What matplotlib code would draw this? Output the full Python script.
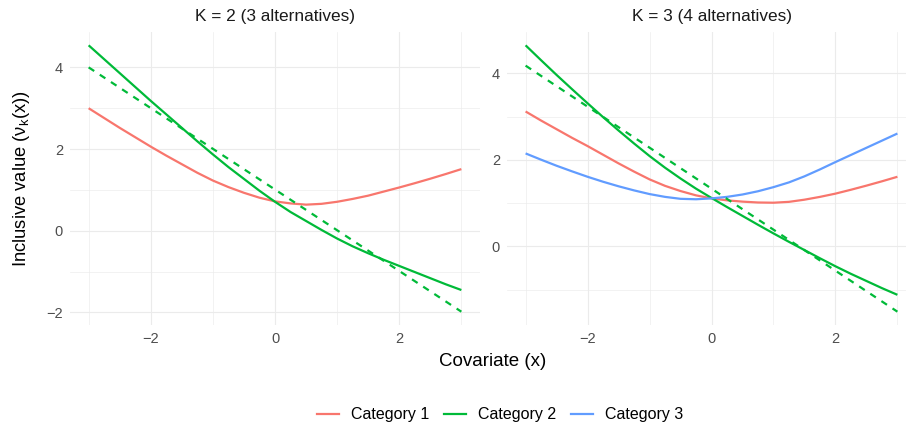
import matplotlib
matplotlib.use("Agg")
import matplotlib.pyplot as plt
from matplotlib.lines import Line2D
from matplotlib.ticker import MultipleLocator

plt.rcParams['font.family'] = ['Liberation Sans', 'DejaVu Sans']
plt.rcParams['mathtext.fontset'] = 'custom'
plt.rcParams['mathtext.rm'] = 'Liberation Sans'
plt.rcParams['mathtext.it'] = 'Liberation Sans:italic'

# ---- data ----
x = [-3, -2.75, -2.5, -2.25, -2, -1.75, -1.5, -1.25, -1, -0.75, -0.5, -0.25,
     0, 0.25, 0.5, 0.75, 1, 1.25, 1.5, 1.75, 2, 2.25, 2.5, 2.75, 3]

# Panel K = 2
k2_cat1 = [3.00, 2.76, 2.52, 2.29, 2.06, 1.84, 1.63, 1.42, 1.23, 1.07, 0.93, 0.81,
           0.72, 0.67, 0.64, 0.66, 0.71, 0.78, 0.86, 0.96, 1.06, 1.165, 1.275, 1.39, 1.51]
k2_cat2 = [4.54, 4.20, 3.86, 3.52, 3.18, 2.85, 2.52, 2.19, 1.87, 1.56, 1.27, 0.98,
           0.71, 0.46, 0.24, 0.02, -0.19, -0.38, -0.55, -0.71, -0.86, -1.01, -1.16, -1.31, -1.45]
k2_dash_x = [-3, 3]
k2_dash_y = [4.00, -1.98]

# Panel K = 3
k3_cat1 = [3.12, 2.91, 2.71, 2.51, 2.32, 2.12, 1.92, 1.73, 1.55, 1.40, 1.28, 1.18,
           1.11, 1.065, 1.035, 1.015, 1.01, 1.03, 1.08, 1.145, 1.22, 1.31, 1.405, 1.505, 1.61]
k3_cat2 = [4.65, 4.305, 3.965, 3.635, 3.31, 2.99, 2.68, 2.38, 2.09, 1.82, 1.57, 1.335,
           1.12, 0.91, 0.705, 0.50, 0.30, 0.105, -0.085, -0.275, -0.46, -0.635, -0.80, -0.965, -1.12]
k3_cat3 = [2.15, 2.005, 1.865, 1.735, 1.61, 1.495, 1.39, 1.295, 1.21, 1.145, 1.10, 1.09,
           1.11, 1.145, 1.20, 1.275, 1.37, 1.48, 1.62, 1.78, 1.95, 2.115, 2.28, 2.445, 2.61]
k3_dash_x = [-3, 3]
k3_dash_y = [4.18, -1.51]

titles = ["K = 2 (3 alternatives)", "K = 3 (4 alternatives)"]
categories = ["Category 1", "Category 2", "Category 3"]
colors = ["#F8766D", "#00BA38", "#619CFF"]

W, H = 906, 430
fig = plt.figure(figsize=(W / 100, H / 100), dpi=100)

def px_axes(left, right, top, bottom):
    return fig.add_axes([left / W, 1 - bottom / H, (right - left) / W, (bottom - top) / H])

ax1 = px_axes(70, 480, 32, 325)
ax2 = px_axes(507, 916, 32, 325)

lw = 1.6
panels = [
    (ax1, [k2_cat1, k2_cat2], (k2_dash_x, k2_dash_y)),
    (ax2, [k3_cat1, k3_cat2, k3_cat3], (k3_dash_x, k3_dash_y)),
]

for i, (ax, series, dash) in enumerate(panels):
    for j, ys in enumerate(series):
        ax.plot(x, ys, color=colors[j], lw=lw, solid_capstyle='butt',
                solid_joinstyle='round', zorder=3)
    ax.plot(dash[0], dash[1], color=colors[1], lw=lw, linestyle=(0, (3, 3)), zorder=3)
    allv = [v for s in series for v in s] + list(dash[1])
    lo, hi = min(allv), max(allv)
    pad = 0.05 * (hi - lo)
    ax.set_ylim(lo - pad, hi + pad)
    ax.set_xlim(-3.3, 3.3)
    ax.xaxis.set_major_locator(MultipleLocator(2))
    ax.xaxis.set_minor_locator(MultipleLocator(1))
    ax.yaxis.set_major_locator(MultipleLocator(2))
    ax.yaxis.set_minor_locator(MultipleLocator(1))
    ax.grid(which='major', color='#EBEBEB', lw=0.8)
    ax.grid(which='minor', color='#EBEBEB', lw=0.45)
    ax.set_axisbelow(True)
    for s in ax.spines.values():
        s.set_visible(False)
    ax.tick_params(which='both', length=0, labelsize=10.5, labelcolor='#4D4D4D', pad=5)
    ax.set_title(titles[i], fontsize=12.4, color='#1A1A1A', pad=8)

fig.text(22 / W, 1 - 178.5 / H, "Inclusive value ($\\mathrm{ν}_{\\mathrm{k}}$(x))",
         rotation=90, ha='center', va='center', fontsize=13.2, color='black')
fig.text(493 / W, 1 - 362 / H, "Covariate (x)", ha='center', va='center',
         fontsize=13.5, color='black')

handles = [Line2D([0], [0], color=c, lw=lw) for c in colors]
fig.legend(handles, categories, loc='center', bbox_to_anchor=(500 / W, 1 - 415 / H),
           ncol=3, frameon=False, fontsize=11.5, handlelength=1.4,
           handletextpad=0.75, columnspacing=0.9)

fig.savefig("out.png", dpi=100)
